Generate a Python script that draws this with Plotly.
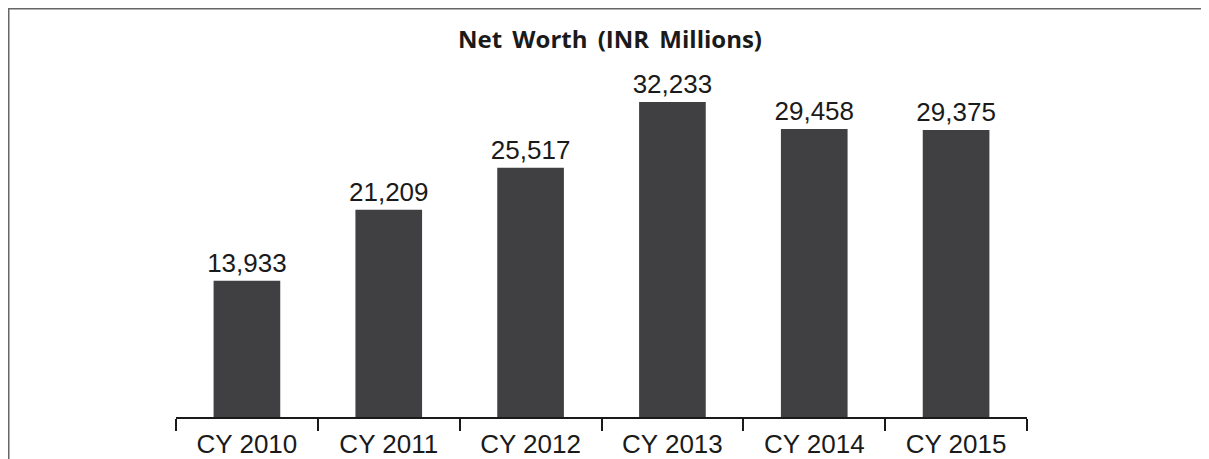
import plotly.graph_objects as go

categories = ["CY 2010", "CY 2011", "CY 2012", "CY 2013", "CY 2014", "CY 2015"]
net_worth = [13933, 21209, 25517, 32233, 29458, 29375]
title_text = "Net\u2009 Worth\u2009 (INR\u2009 Millions)"

# body margin of 8px offsets the figure inside the page
OFF = 8
W, H = 1209 - OFF, 459 - OFF
L = 176 - OFF
R = W - (1027 - OFF)
T = 60 - OFF
B = H - (417 - OFF)
pw = W - L - R
ph = H - T - B

fig = go.Figure(go.Bar(
    x=categories, y=net_worth,
    marker=dict(color="#404042", line=dict(width=0)),
    text=[f"{v:,}" for v in net_worth],
    textposition="outside",
    constraintext="none",
    textfont=dict(family="Liberation Sans, Arial", size=26, color="#1a1a1a"),
    cliponaxis=False,
))

def px_x(x):
    return (x - OFF - L) / pw

def px_y(y):
    return (H + OFF - B - y) / ph

border = dict(color="#666666", width=3)
fig.add_shape(type="line", xref="paper", yref="paper",
              x0=px_x(8), x1=px_x(1215), y0=px_y(8), y1=px_y(8), line=border)
fig.add_shape(type="line", xref="paper", yref="paper",
              x0=px_x(8), x1=px_x(8), y0=px_y(8), y1=px_y(470), line=border)

fig.update_layout(
    width=W, height=H,
    margin=dict(l=L, r=R, t=T, b=B, autoexpand=False),
    paper_bgcolor="white", plot_bgcolor="white",
    bargap=0.53,
    showlegend=False,
    title=dict(text=f"<b>{title_text}</b>", x=px_x(610), xref="paper", xanchor="center",
               y=1 - (40 - OFF) / H, yanchor="middle",
               font=dict(family="Open Sans, sans-serif", size=24, color="#1a1a1a")),
    xaxis=dict(showline=True, linecolor="#1a1a1a", linewidth=2,
               ticks="outside", tickson="boundaries", ticklen=12, tickwidth=2,
               tickcolor="#1a1a1a", showgrid=False, zeroline=False,
               automargin=False, ticklabelstandoff=3,
               tickfont=dict(family="Liberation Sans, Arial", size=26, color="#1a1a1a"),
               range=[-0.5, 5.5], fixedrange=True),
    yaxis=dict(visible=False, range=[0, ph / (315 / 32233)], showgrid=False,
               zeroline=False, automargin=False),
)

fig.write_html("out.html")
